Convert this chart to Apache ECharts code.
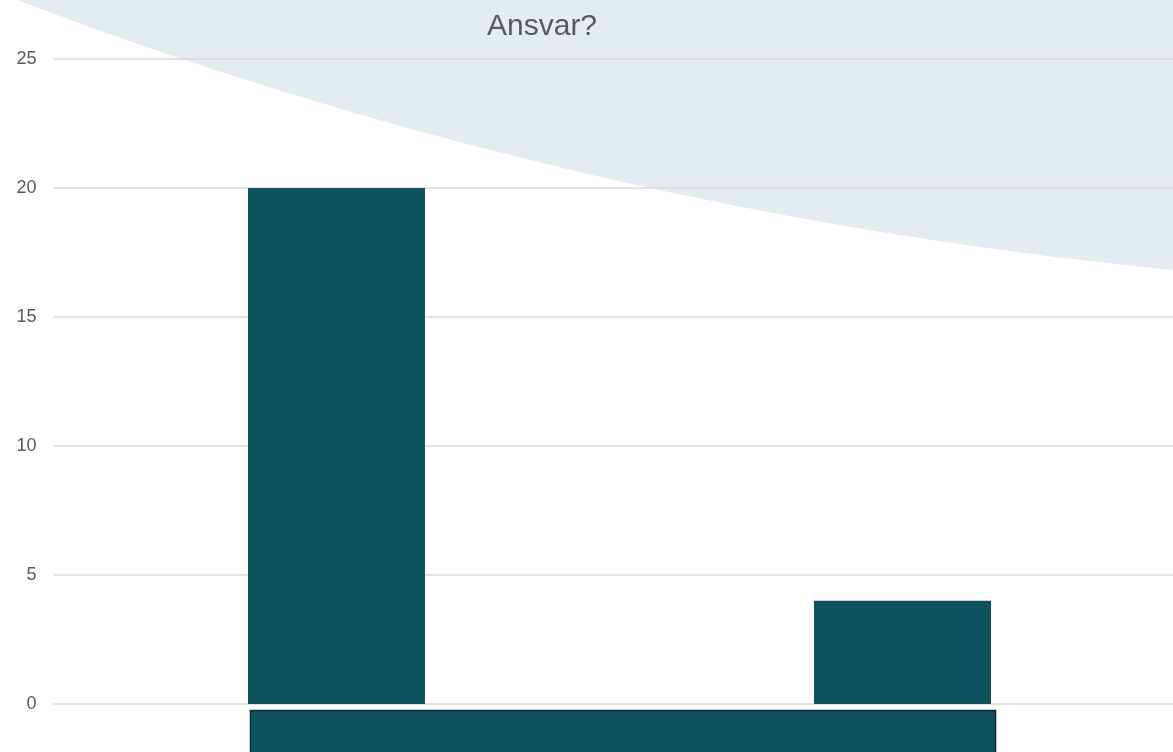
<!DOCTYPE html>
<html>
<head>
<meta charset="utf-8">
<script src="https://cdn.jsdelivr.net/npm/echarts@6/dist/echarts.min.js"></script>
<style>
  html, body { margin: 0; padding: 0; background: #fff; }
  #chart { width: 1173px; height: 752px; }
</style>
</head>
<body>
<div id="chart"></div>
<script>
var categories = ['Ja', 'Nej'];
var values = [20, 4];
var yTicks = [0, 5, 10, 15, 20, 25];

var barData = values.map(function (v, i) { return [i, v]; });

var chart = echarts.init(document.getElementById('chart'));
chart.setOption({
  animation: false,
  title: {
    text: 'Ansvar?',
    left: 487,
    top: 12,
    padding: 0,
    textStyle: { fontFamily: 'Liberation Sans', fontWeight: 'normal', fontSize: 30, color: '#595959' }
  },
  graphic: [
    {
      // decorative background arc
      type: 'circle',
      z: -10,
      silent: true,
      shape: { cx: 1602.6, cy: -4179, r: 4469.7 },
      style: { fill: '#e4ecef' }
    },
    {
      type: 'rect',
      z: 10,
      silent: true,
      shape: { x: 250.5, y: 710.5, width: 745, height: 60 },
      style: { fill: '#0f525e', stroke: '#0b2a30', lineWidth: 1.5 }
    }
  ],
  grid: { left: 53.5, right: 0, top: 59, bottom: 48 },
  xAxis: {
    // category index axis; one category step = 566px
    type: 'value',
    min: -0.5,
    max: 1.478,
    axisLine: { show: false },
    axisTick: { show: false },
    axisLabel: { show: false },
    splitLine: { show: false }
  },
  yAxis: {
    type: 'value',
    min: yTicks[0],
    max: yTicks[yTicks.length - 1],
    interval: 5,
    axisLine: { show: false },
    axisTick: { show: false },
    axisLabel: { color: '#595959', fontSize: 18, fontFamily: 'Liberation Sans', margin: 17 },
    splitLine: { lineStyle: { color: '#d9d9d9', width: 1.5 } }
  },
  series: [{
    type: 'bar',
    name: categories.join('/'),
    data: barData,
    barWidth: 177,
    itemStyle: { color: '#0f525e' }
  }]
});
</script>
</body>
</html>
